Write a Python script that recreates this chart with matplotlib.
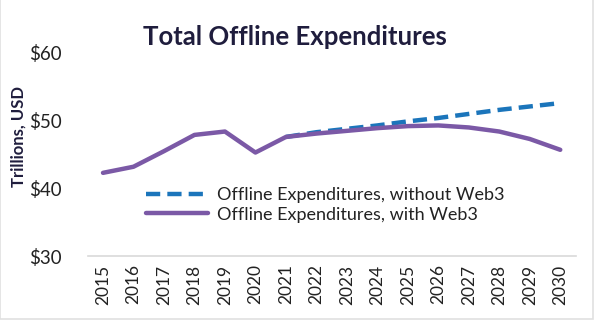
import matplotlib
matplotlib.use('Agg')
import matplotlib.pyplot as plt
from matplotlib.patches import Rectangle

years = [str(y) for y in range(2015, 2031)]
with_web3 = [42.3, 43.2, 45.5, 47.9, 48.4, 45.3, 47.6, 48.1, 48.5, 48.9,
             49.2, 49.3, 49.0, 48.4, 47.3, 45.7]
without_web3 = [42.3, 43.2, 45.5, 47.9, 48.4, 45.3, 47.6, 48.3, 48.8, 49.3,
                49.9, 50.4, 51.0, 51.6, 52.1, 52.6]
y_ticks = [30, 40, 50, 60]
y_tick_labels = ["$30", "$40", "$50", "$60"]

plt.rcParams['font.family'] = ['Lato', 'DejaVu Sans']

blue = "#1b75bb"
purple = "#7b59a6"
navy = "#1f1d3d"

fig = plt.figure(figsize=(5.97, 3.23), dpi=100)
ax = fig.add_axes([0.147, 0.207, 0.817, 0.629])

x = list(range(len(years)))
# dashed line only shown where it departs from the purple one
ax.plot(x[6:], without_web3[6:], color=blue, lw=3.2, ls=(0, (3.2, 1.6)),
        dash_capstyle='butt', label="Offline Expenditures, without Web3", zorder=2)
ax.plot(x, with_web3, color=purple, lw=3.2, solid_capstyle='round',
        label="Offline Expenditures, with Web3", zorder=3)

ax.set_xlim(-0.5, len(years) - 0.5)
ax.set_ylim(30, 60)
ax.set_xticks(x)
ax.set_xticklabels(years, rotation=90, fontsize=12.5, color="#222222")
ax.set_yticks(y_ticks)
ax.set_yticklabels(y_tick_labels, fontsize=13.5, color="#222222")
ax.tick_params(length=0, pad=6)
ax.tick_params(axis='y', pad=19)

for s in ['top', 'right', 'left']:
    ax.spines[s].set_visible(False)
ax.spines['bottom'].set_color("#d9d9d9")
ax.spines['bottom'].set_linewidth(1.2)

ax.set_ylabel("Trillions, USD", fontsize=12, fontweight='bold', color=navy)
ax.yaxis.set_label_coords(-0.125, 0.59)

fig.text(0.494, 0.885, "Total Offline Expenditures", ha='center', va='center',
         fontsize=18.5, fontweight='bold', color=navy)

leg = ax.legend(loc='upper left', bbox_to_anchor=(0.12, 0.34), frameon=False,
                fontsize=13, handlelength=3.4, handletextpad=0.5,
                labelspacing=0.2, borderaxespad=0, borderpad=0)
for t in leg.get_texts():
    t.set_color("#222222")

# light frame on right and bottom
fig.patches.append(Rectangle((0, 0.012), 0.994, 1.0, transform=fig.transFigure,
                             fill=False, edgecolor="#e0e0e0", lw=1.2))

fig.savefig("out.png", dpi=100)
